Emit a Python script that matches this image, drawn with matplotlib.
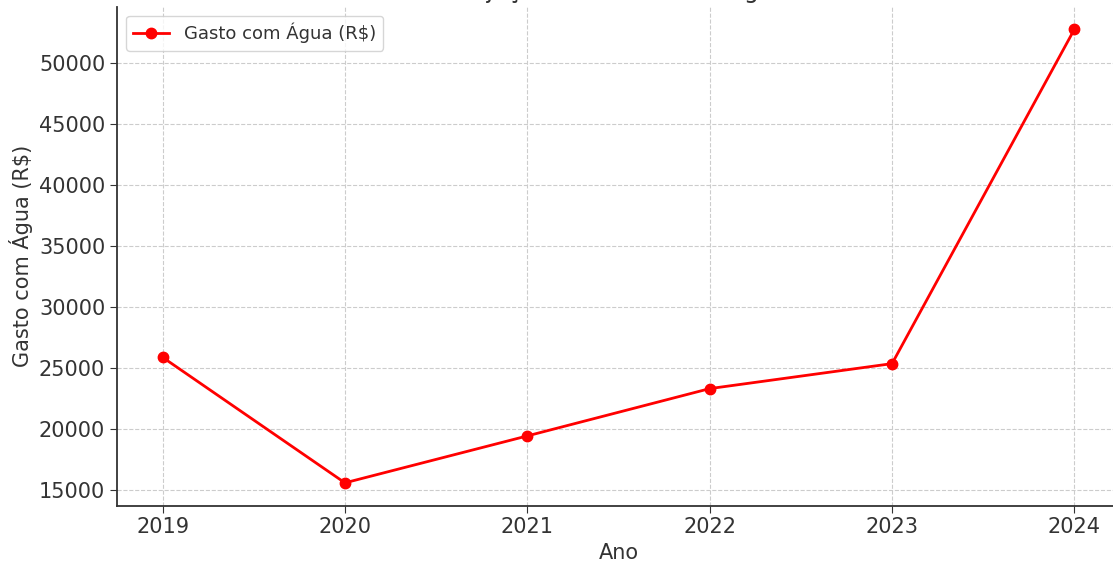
import matplotlib.pyplot as plt

anos = [2019, 2020, 2021, 2022, 2023, 2024]
gasto_agua = [25850, 15550, 19400, 23280, 25330, 52760]

titulo = "Projeção do Gasto com Água"
rotulo_serie = "Gasto com Água (R$)"


def main():
    fig = plt.figure(figsize=(11.13, 5.62), dpi=100)
    ax = fig.add_axes([0.1051, 0.1005, 0.9012, 0.8878])

    ax.plot(anos, gasto_agua, color="red", marker="o", linewidth=2,
            markersize=7.5, label=rotulo_serie)

    ax.set_title(titulo, fontsize=17, color="#333333")
    ax.set_xlabel("Ano", fontsize=15, color="#333333")
    ax.set_ylabel(rotulo_serie, fontsize=15, color="#333333")
    ax.set_xticks(anos)
    ax.tick_params(axis="both", labelsize=15, colors="#333333", length=5)

    ax.grid(True, linestyle="--", color="#cccccc", linewidth=0.8)
    ax.spines["top"].set_visible(False)
    ax.spines["right"].set_visible(False)
    for lado in ["left", "bottom"]:
        ax.spines[lado].set_color("#333333")
        ax.spines[lado].set_linewidth(1.3)

    leg = ax.legend(loc="upper left", fontsize=13)
    for t in leg.get_texts():
        t.set_color("#333333")

    fig.savefig("out.png", dpi=100)


if __name__ == '__main__':
    main()
